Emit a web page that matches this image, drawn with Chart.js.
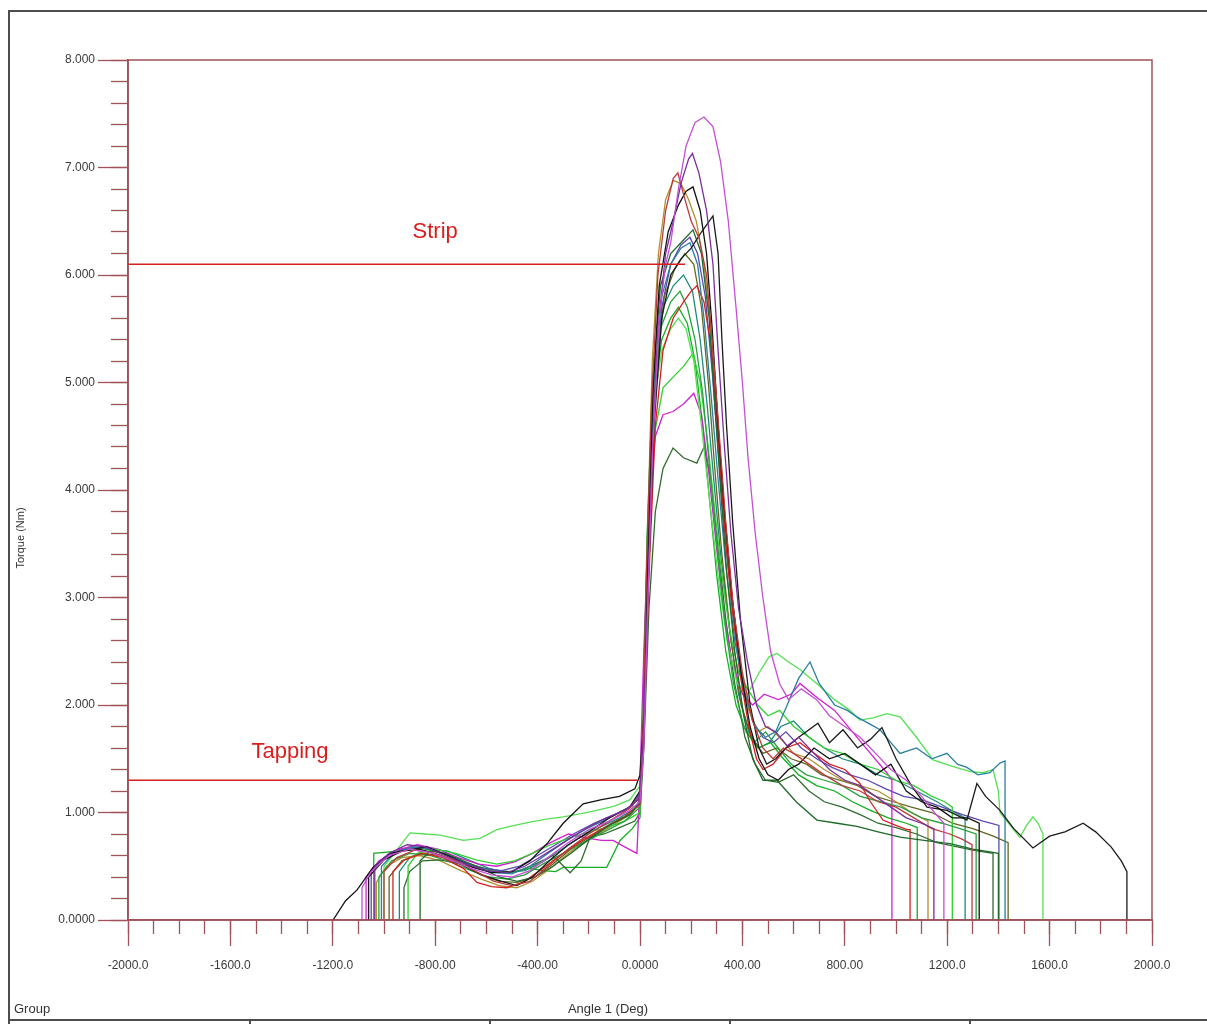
<!DOCTYPE html>
<html>
<head>
<meta charset="utf-8">
<script src="https://cdn.jsdelivr.net/npm/chart.js@4.4.1/dist/chart.umd.min.js"></script>
<style>
  html, body { margin: 0; padding: 0; background: #fff; }
  #wrap { width: 1207px; height: 1024px; }
</style>
</head>
<body>
<div id="wrap"><canvas id="torqueChart" width="1207" height="1024"></canvas></div>
<script>
// tick labels as printed by the tester software
const xTickLabels = ['-2000.0', '-1600.0', '-1200.0', '-800.00', '-400.00', '0.0000', '400.00', '800.00', '1200.0', '1600.0', '2000.0'];
const yTickLabels = ['0.0000', '1.000', '2.000', '3.000', '4.000', '5.000', '6.000', '7.000', '8.000'];

// limit lines [angle, torque]
const stripLine = [[-2000, 6.10], [176, 6.10]];
const tappingLine = [[-2000, 1.30], [-10, 1.30]];
const limitNames = ['Strip', 'Tapping'];

// runs: [angle (deg), torque (Nm)]
const run01 = [[-1086,0],[-1086,0.30],[-1050,0.45],[-980,0.60],[-900,0.66],[-820,0.63],[-740,0.56],[-660,0.48],[-580,0.42],[-500,0.40],[-430,0.46],[-360,0.58],[-280,0.72],[-200,0.84],[-120,0.92],[-40,1.02],[0,1.10],[15,1.6],[30,2.9],[50,4.4],[75,5.6],[100,6.1],[120,6.3],[150,6.8],[180,7.2],[215,7.42],[250,7.47],[285,7.38],[315,7.05],[345,6.5],[375,5.7],[400,5.0],[422,4.3],[450,3.6],[480,3.0],[510,2.5],[545,2.2],[580,2.05],[630,2.15],[690,2.05],[740,1.9],[800,1.8],[860,1.7],[920,1.55],[980,1.40],[1040,1.30],[1100,1.15],[1150,1.0],[1187,0.9],[1187,0]];
const run02 = [[-1036,0],[-1036,0.5],[-980,0.62],[-910,0.70],[-840,0.68],[-760,0.60],[-680,0.52],[-600,0.46],[-520,0.44],[-450,0.50],[-380,0.60],[-300,0.72],[-220,0.84],[-140,0.94],[-60,1.02],[-5,1.12],[10,1.5],[25,2.6],[45,4.2],[70,5.5],[100,6.2],[130,6.5],[160,6.85],[190,7.08],[205,7.13],[230,6.95],[260,6.6],[285,6.1],[305,5.3],[330,4.4],[355,3.6],[385,2.9],[420,2.4],[455,2.0],[490,1.8],[530,1.75],[575,1.62],[620,1.7],[680,1.55],[740,1.4],[800,1.3],[860,1.25],[920,1.15],[980,1.05],[1040,0.95],[1100,0.9],[1148,0.85],[1148,0]];
const run03 = [[-1000,0],[-1000,0.45],[-950,0.58],[-880,0.65],[-800,0.62],[-720,0.55],[-640,0.45],[-570,0.36],[-500,0.32],[-430,0.36],[-360,0.50],[-280,0.66],[-200,0.80],[-120,0.92],[-40,1.04],[0,1.15],[12,1.8],[25,3.2],[45,4.8],[70,6.0],[100,6.6],[130,6.9],[148,6.95],[170,6.75],[200,6.5],[230,6.35],[260,6.0],[285,5.3],[310,4.5],[335,3.7],[365,2.9],[400,2.3],[440,1.85],[480,1.6],[520,1.5],[560,1.6],[600,1.55],[660,1.45],[720,1.35],[790,1.25],[860,1.2],[930,1.1],[1000,1.05],[1070,0.95],[1140,0.85],[1210,0.8],[1260,0.75],[1297,0.7],[1297,0]];
const run04 = [[-1199,0],[-1150,0.18],[-1105,0.28],[-1043,0.49],[-977,0.62],[-911,0.65],[-833,0.68],[-742,0.59],[-652,0.49],[-580,0.44],[-500,0.45],[-430,0.55],[-360,0.72],[-300,0.90],[-222,1.08],[-150,1.12],[-80,1.15],[-20,1.22],[0,1.35],[15,1.9],[30,3.3],[50,4.9],[75,5.9],[110,6.4],[150,6.65],[180,6.78],[207,6.82],[235,6.6],[260,6.2],[282,5.5],[305,4.6],[330,3.8],[360,3.0],[395,2.3],[430,1.8],[465,1.5],[500,1.35],[540,1.3],[580,1.4],[620,1.45],[680,1.6],[740,1.5],[800,1.55],[860,1.45],[920,1.35],[980,1.45],[1040,1.2],[1100,1.1],[1160,1.05],[1220,0.95],[1280,0.95],[1325,0.9],[1325,0]];
const run05 = [[-1060,0],[-1060,0.4],[-1000,0.56],[-930,0.64],[-860,0.66],[-780,0.60],[-700,0.52],[-620,0.42],[-540,0.36],[-481,0.32],[-420,0.40],[-350,0.56],[-280,0.70],[-200,0.82],[-120,0.95],[-40,1.05],[0,1.2],[15,1.7],[30,3.0],[55,4.6],[85,5.6],[120,6.0],[160,6.15],[200,6.25],[240,6.4],[285,6.55],[305,6.2],[320,5.4],[338,4.6],[362,3.7],[392,2.8],[430,2.0],[465,1.6],[495,1.45],[530,1.5],[570,1.6],[620,1.7],[695,1.83],[740,1.65],[793,1.77],[850,1.6],[900,1.68],[945,1.79],[1000,1.5],[1060,1.25],[1121,1.05],[1199,1.02],[1277,0.93],[1316,1.27],[1350,1.15],[1406,1.02],[1460,0.85],[1535,0.67],[1600,0.78],[1660,0.82],[1731,0.90],[1780,0.82],[1840,0.68],[1880,0.55],[1902,0.45],[1902,0]];
const run06 = [[-859,0],[-859,0.55],[-820,0.64],[-760,0.62],[-690,0.55],[-620,0.48],[-550,0.40],[-480,0.36],[-410,0.40],[-340,0.50],[-270,0.62],[-200,0.75],[-120,0.88],[-40,0.98],[0,1.1],[15,1.8],[30,3.4],[50,5.0],[80,5.9],[120,6.2],[160,6.3],[207,6.42],[240,6.2],[270,5.6],[292,4.8],[315,4.0],[340,3.2],[370,2.5],[405,1.9],[440,1.5],[480,1.3],[535,1.3],[610,1.1],[691,0.93],[770,0.9],[847,0.87],[930,0.82],[1016,0.77],[1110,0.74],[1211,0.71],[1300,0.66],[1379,0.63],[1400,0.62],[1400,0]];
const run07 = [[-1010,0],[-1010,0.5],[-960,0.62],[-890,0.68],[-810,0.66],[-730,0.58],[-650,0.50],[-570,0.44],[-500,0.43],[-430,0.50],[-360,0.62],[-280,0.75],[-200,0.86],[-120,0.95],[-40,1.05],[0,1.2],[15,1.9],[30,3.4],[55,5.0],[85,5.8],[120,6.1],[160,6.25],[195,6.3],[225,6.1],[250,5.6],[277,4.9],[305,4.1],[335,3.3],[370,2.6],[410,2.1],[450,1.8],[490,1.7],[530,1.75],[575,2.0],[620,2.25],[664,2.4],[700,2.2],[760,2.0],[810,1.95],[847,1.89],[900,1.82],[938,1.77],[980,1.65],[1016,1.55],[1080,1.6],[1140,1.5],[1199,1.55],[1240,1.45],[1277,1.42],[1320,1.35],[1367,1.37],[1406,1.46],[1426,1.48],[1426,0]];
const run08 = [[-965,0],[-965,0.45],[-920,0.56],[-850,0.62],[-770,0.58],[-690,0.48],[-637,0.35],[-580,0.31],[-520,0.30],[-450,0.36],[-380,0.48],[-300,0.62],[-220,0.75],[-140,0.86],[-60,0.96],[0,1.08],[15,1.7],[35,3.2],[60,4.6],[90,5.3],[130,5.6],[170,5.75],[200,5.85],[222,5.9],[250,5.75],[280,5.3],[302,4.6],[325,3.8],[355,3.0],[390,2.3],[425,1.8],[455,1.5],[480,1.4],[520,1.45],[570,1.6],[625,1.65],[680,1.55],[740,1.45],[800,1.4],[859,1.27],[900,1.1],[949,0.93],[1000,0.88],[1043,0.84],[1055,0.84],[1055,0]];
const run09 = [[-1020,0],[-1020,0.4],[-970,0.55],[-900,0.62],[-820,0.60],[-740,0.54],[-660,0.46],[-590,0.40],[-520,0.38],[-450,0.42],[-380,0.52],[-300,0.62],[-220,0.72],[-140,0.82],[-60,0.92],[0,1.05],[12,1.9],[28,3.6],[50,5.0],[80,5.5],[120,5.75],[156,5.85],[185,5.7],[215,5.4],[245,4.9],[272,4.2],[300,3.5],[330,2.8],[365,2.2],[405,1.8],[445,1.65],[490,1.75],[540,1.6],[590,1.45],[650,1.35],[720,1.3],[790,1.25],[860,1.15],[940,1.1],[1020,1.05],[1100,0.95],[1180,0.9],[1250,0.85],[1313,0.8],[1313,0]];
const run10 = [[-1000,0],[-1000,0.5],[-960,0.62],[-898,0.81],[-840,0.80],[-781,0.79],[-690,0.74],[-625,0.76],[-559,0.84],[-490,0.88],[-430,0.91],[-360,0.94],[-300,0.96],[-230,0.99],[-169,1.02],[-100,1.06],[-39,1.12],[0,1.25],[15,2.0],[30,3.6],[55,4.8],[85,5.3],[120,5.5],[150,5.6],[180,5.5],[210,5.2],[240,4.6],[272,3.9],[305,3.2],[340,2.6],[380,2.2],[420,2.1],[465,2.3],[505,2.45],[535,2.48],[580,2.4],[625,2.33],[690,2.2],[760,2.05],[820,1.95],[859,1.86],[910,1.88],[964,1.92],[1016,1.89],[1080,1.7],[1145,1.49],[1220,1.43],[1290,1.38],[1340,1.37],[1379,1.40],[1400,1.2],[1406,1.0],[1440,0.9],[1484,0.77],[1510,0.88],[1535,0.96],[1555,0.9],[1574,0.8],[1574,0]];
const run11 = [[-906,0],[-906,0.5],[-870,0.62],[-800,0.66],[-720,0.62],[-640,0.56],[-560,0.52],[-490,0.55],[-420,0.62],[-350,0.70],[-280,0.76],[-200,0.82],[-130,0.86],[-60,0.92],[0,1.0],[15,1.8],[30,3.3],[55,4.5],[90,4.95],[129,5.05],[170,5.15],[207,5.27],[235,5.0],[262,4.5],[288,3.9],[315,3.3],[350,2.7],[385,2.3],[420,2.15],[460,2.0],[500,1.9],[545,1.95],[600,1.8],[660,1.7],[720,1.6],[790,1.55],[860,1.45],[930,1.4],[1000,1.3],[1070,1.25],[1140,1.15],[1190,1.1],[1220,1.05],[1220,0]];
const run12 = [[-1070,0],[-1070,0.4],[-1020,0.55],[-950,0.65],[-870,0.70],[-790,0.66],[-710,0.58],[-630,0.52],[-560,0.50],[-490,0.54],[-420,0.62],[-350,0.72],[-280,0.80],[-200,0.76],[-150,0.74],[-105,0.74],[-60,0.68],[-12,0.62],[0,1.3],[15,2.5],[35,3.8],[60,4.5],[90,4.7],[129,4.73],[170,4.8],[210,4.9],[240,4.7],[267,4.2],[293,3.6],[325,2.9],[360,2.4],[400,2.1],[440,2.0],[485,2.1],[540,2.05],[590,2.1],[625,2.2],[691,2.07],[760,1.95],[830,1.75],[900,1.55],[964,1.37],[984,1.3],[984,0]];
const run13 = [[-922,0],[-922,0.3],[-900,0.45],[-850,0.55],[-780,0.56],[-700,0.52],[-620,0.47],[-550,0.44],[-480,0.45],[-410,0.52],[-340,0.60],[-273,0.44],[-230,0.55],[-195,0.77],[-140,0.8],[-80,0.86],[-20,0.92],[0,1.0],[15,1.6],[35,2.9],[60,3.8],[90,4.2],[129,4.39],[170,4.3],[222,4.25],[250,4.4],[277,4.1],[303,3.5],[335,2.8],[370,2.2],[410,1.7],[450,1.45],[490,1.3],[540,1.28],[600,1.35],[660,1.2],[720,1.1],[790,1.05],[860,0.98],[930,0.9],[1000,0.86],[1080,0.8],[1160,0.72],[1240,0.68],[1300,0.65],[1379,0.62],[1379,0]];
const run14 = [[-1030,0],[-1030,0.35],[-990,0.5],[-930,0.58],[-860,0.60],[-780,0.55],[-700,0.46],[-620,0.38],[-550,0.32],[-481,0.30],[-420,0.36],[-350,0.48],[-280,0.62],[-200,0.75],[-120,0.86],[-40,0.98],[0,1.08],[12,1.8],[28,3.5],[48,5.2],[72,6.2],[100,6.7],[130,6.88],[160,6.85],[190,6.7],[220,6.5],[250,6.1],[277,5.5],[302,4.7],[325,3.9],[355,3.1],[390,2.4],[425,1.95],[460,1.75],[500,1.8],[545,1.7],[600,1.55],[660,1.5],[720,1.4],[790,1.3],[860,1.25],[930,1.2],[1000,1.1],[1060,1.0],[1125,0.92],[1125,0]];
const run15 = [[-980,0],[-980,0.4],[-930,0.55],[-860,0.62],[-780,0.60],[-700,0.52],[-620,0.42],[-550,0.36],[-480,0.35],[-410,0.40],[-340,0.52],[-270,0.66],[-190,0.78],[-110,0.9],[-30,1.0],[0,1.12],[15,1.9],[35,3.6],[60,5.0],[95,5.8],[135,6.05],[175,6.2],[210,6.1],[240,5.7],[267,5.0],[292,4.2],[320,3.4],[355,2.6],[395,2.0],[435,1.7],[480,1.55],[535,1.6],[590,1.5],[650,1.45],[710,1.35],[780,1.3],[850,1.25],[920,1.15],[990,1.1],[1060,1.05],[1140,1.0],[1220,0.9],[1300,0.85],[1380,0.78],[1438,0.72],[1438,0]];
const run16 = [[-1050,0],[-1050,0.45],[-1000,0.58],[-930,0.66],[-850,0.68],[-770,0.62],[-690,0.54],[-610,0.48],[-540,0.46],[-470,0.50],[-400,0.60],[-330,0.70],[-260,0.80],[-180,0.90],[-100,0.98],[-30,1.06],[0,1.18],[15,1.8],[32,3.2],[55,4.8],[85,5.7],[120,6.1],[160,6.28],[195,6.35],[225,6.2],[255,5.8],[282,5.1],[308,4.3],[335,3.5],[365,2.8],[400,2.2],[440,1.85],[480,1.7],[520,1.65],[570,1.75],[630,1.6],[690,1.5],[750,1.42],[820,1.35],[890,1.3],[960,1.22],[1030,1.15],[1100,1.12],[1180,1.05],[1260,0.98],[1340,0.92],[1402,0.88],[1402,0]];
const run17 = [[-1040,0],[-1040,0.62],[-1000,0.63],[-950,0.64],[-880,0.68],[-800,0.64],[-720,0.56],[-640,0.50],[-570,0.46],[-500,0.45],[-430,0.48],[-378,0.46],[-330,0.45],[-300,0.49],[-230,0.49],[-180,0.49],[-130,0.49],[-78,0.74],[-30,0.85],[0,0.95],[15,1.8],[30,3.4],[55,4.9],[85,5.4],[120,5.6],[150,5.7],[185,5.55],[215,5.2],[245,4.6],[272,3.9],[300,3.2],[335,2.5],[375,2.0],[415,1.75],[460,1.6],[510,1.65],[560,1.5],[620,1.35],[690,1.25],[760,1.2],[830,1.1],[900,1.02],[970,0.95],[1040,0.9],[1083,0.86],[1083,0]];
const run18 = [[-940,0],[-940,0.45],[-900,0.58],[-830,0.66],[-750,0.64],[-670,0.56],[-590,0.48],[-520,0.44],[-450,0.46],[-380,0.54],[-310,0.65],[-240,0.76],[-160,0.86],[-80,0.95],[-10,1.05],[0,1.15],[15,1.9],[32,3.5],[55,5.0],[90,5.7],[130,5.9],[170,6.0],[205,5.85],[235,5.4],[262,4.8],[288,4.1],[315,3.4],[350,2.7],[385,2.1],[425,1.75],[465,1.6],[505,1.65],[550,1.8],[600,1.85],[660,1.7],[720,1.6],[790,1.5],[860,1.45],[930,1.35],[1000,1.3],[1080,1.2],[1160,1.1],[1230,1.0],[1270,0.95],[1270,0]];

const runs = [run01, run02, run03, run04, run05, run06, run07, run08, run09, run10, run11, run12, run13, run14, run15, run16, run17, run18];
const runColors = ['#c34fd2', '#7a2e9e', '#b83a3a', '#111111', '#1a1a1a', '#1e6a2a', '#2a7fa0', '#d42020', '#2aa040', '#55e055', '#30d030', '#d020d0', '#2f6b2f', '#b09030', '#606820', '#5a48b0', '#10b020', '#1d8a7a'];

const frameColor = '#9e5359';
const limitColor = '#d81e1e';
const toXY = p => ({ x: p[0], y: p[1] });

const datasets = [
  { data: stripLine.map(toXY), borderColor: limitColor, borderWidth: 1.5 },
  { data: tappingLine.map(toXY), borderColor: limitColor, borderWidth: 1.5 }
];
runs.forEach((r, i) => {
  datasets.push({ data: r.map(toXY), borderColor: runColors[i], borderWidth: 1.3 });
});

const decor = {
  id: 'decor',
  beforeDraw(chart) {
    const ctx = chart.ctx;
    ctx.save();
    ctx.fillStyle = '#fff';
    ctx.fillRect(0, 0, chart.width, chart.height);
    // window frame
    ctx.strokeStyle = '#4d4d4d';
    ctx.lineWidth = 2;
    ctx.beginPath();
    ctx.moveTo(9, 1024); ctx.lineTo(9, 11); ctx.lineTo(1207, 11);
    ctx.moveTo(9, 1020); ctx.lineTo(1207, 1020);
    [250, 490, 730, 970].forEach(x => { ctx.moveTo(x, 1020); ctx.lineTo(x, 1024); });
    ctx.stroke();
    ctx.restore();
  },
  afterDraw(chart) {
    const ctx = chart.ctx;
    const a = chart.chartArea;
    const xs = chart.scales.x, ys = chart.scales.y;
    ctx.save();
    ctx.strokeStyle = frameColor;
    ctx.lineWidth = 1.5;
    ctx.strokeRect(a.left, a.top, a.right - a.left, a.bottom - a.top);

    ctx.fillStyle = limitColor;
    ctx.font = '22px "Liberation Sans", Arial, sans-serif';
    ctx.textAlign = 'center';
    ctx.textBaseline = 'middle';
    ctx.fillText(limitNames[0], xs.getPixelForValue(-800), ys.getPixelForValue(6.40));
    ctx.fillText(limitNames[1], xs.getPixelForValue(-1367), ys.getPixelForValue(1.56));

    ctx.fillStyle = '#333';
    ctx.font = '13px "Liberation Sans", Arial, sans-serif';
    ctx.textAlign = 'left';
    ctx.fillText('Group', 14, 1009);
    ctx.textAlign = 'center';
    ctx.fillText('Angle 1 (Deg)', 608, 1009);

    ctx.font = '11px "Liberation Sans", Arial, sans-serif';
    ctx.translate(21, 538);
    ctx.rotate(-Math.PI / 2);
    ctx.fillText('Torque (Nm)', 0, 0);
    ctx.restore();
  }
};

const tickFont = { family: '"Liberation Sans", Arial, sans-serif', size: 12 };
const noLabel = () => '';

new Chart(document.getElementById('torqueChart'), {
  type: 'scatter',
  data: { datasets: datasets },
  options: {
    responsive: false,
    devicePixelRatio: 1,
    animation: false,
    showLine: true,
    elements: { point: { radius: 0, hoverRadius: 0 }, line: { tension: 0, fill: false } },
    layout: { padding: { left: 0, top: 60, right: 55, bottom: 0 } },
    plugins: { legend: { display: false }, tooltip: { enabled: false } },
    scales: {
      x: {
        type: 'linear', position: 'bottom', weight: 0, min: -2000, max: 2000,
        ticks: { stepSize: 400, autoSkip: false, maxRotation: 0, color: '#3a3a3a', font: tickFont, padding: 12,
          callback: (v, i) => xTickLabels[i] },
        grid: { drawOnChartArea: false, tickLength: 26, tickColor: frameColor, tickWidth: 1.3 },
        border: { color: frameColor, width: 1.5 },
        afterFit: s => { s.height = 104; }
      },
      // minor ticks sit closer to the plot (lower weight)
      xMinor: {
        type: 'linear', position: 'bottom', weight: -1, min: -2000, max: 2000,
        ticks: { stepSize: 100, autoSkip: false, maxRotation: 0, callback: noLabel },
        grid: { drawOnChartArea: false, tickLength: 14, tickColor: frameColor, tickWidth: 1.3 },
        border: { color: frameColor, width: 1.5 },
        afterFit: s => { s.height = 0; }
      },
      y: {
        type: 'linear', position: 'left', weight: 0, min: 0, max: 8,
        ticks: { stepSize: 1, autoSkip: false, color: '#3a3a3a', font: tickFont, padding: 3,
          callback: (v, i) => yTickLabels[i] },
        grid: { drawOnChartArea: false, tickLength: 30, tickColor: frameColor, tickWidth: 1.3 },
        border: { color: frameColor, width: 1.5 },
        afterFit: s => { s.width = 128; }
      },
      yMinor: {
        type: 'linear', position: 'left', weight: -1, min: 0, max: 8,
        ticks: { stepSize: 0.2, autoSkip: false, callback: noLabel },
        grid: { drawOnChartArea: false, tickLength: 17, tickColor: frameColor, tickWidth: 1.3 },
        border: { color: frameColor, width: 1.5 },
        afterFit: s => { s.width = 0; }
      }
    }
  },
  plugins: [decor]
});
</script>
</body>
</html>
